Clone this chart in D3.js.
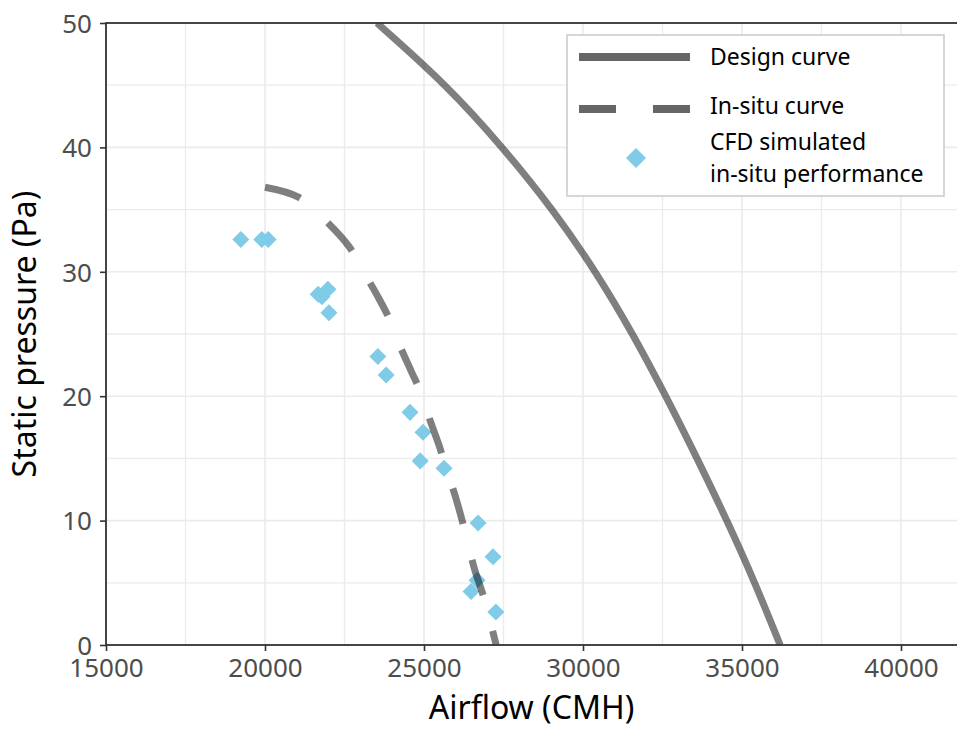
<!DOCTYPE html>
<html>
<head>
<meta charset="utf-8">
<script src="https://cdn.jsdelivr.net/npm/d3@7"></script>
<style>
  body { margin: 0; background: #fff; }
  svg { display: block; font-family: "Noto Sans", "DejaVu Sans", sans-serif; }
</style>
</head>
<body>
<svg id="chart" width="957" height="729"></svg>
<script>
// Design curve (Airflow CMH, static pressure Pa)
const designQ = [23520, 25720, 27480, 29060, 30410, 31570, 32610, 33590, 34530, 35410, 36200];
const designP = [50, 45, 40, 35, 30, 25, 20, 15, 10, 5, 0];

// In-situ curve
const insituQ = [20000, 21050, 21950, 22650, 23100, 23550, 23950, 24250, 24600, 24950, 25200, 25480, 25720, 25980, 26200, 26400, 26600, 26860, 27070, 27270];
const insituP = [36.8, 36.0, 34.0, 32.0, 30.0, 28.0, 26.0, 24.0, 22.0, 20.0, 18.0, 16.0, 14.0, 12.0, 10.0, 8.0, 6.0, 4.0, 2.0, 0.0];

// CFD simulated in-situ performance
const cfdQ = [19240, 19900, 20100, 21670, 21790, 21980, 22010, 23550, 23810, 24560, 24970, 24880, 25630, 26700, 27170, 26670, 26480, 27260];
const cfdP = [32.6, 32.6, 32.6, 28.2, 28.0, 28.6, 26.7, 23.2, 21.7, 18.7, 17.1, 14.8, 14.2, 9.8, 7.1, 5.2, 4.3, 2.65];

const xTicks = [15000, 20000, 25000, 30000, 35000, 40000];
const yTicks = [0, 10, 20, 30, 40, 50];
const xMinor = [17500, 22500, 27500, 32500, 37500, 42500];
const yMinor = [5, 15, 25, 35, 45];

const legendLabels = ["Design curve", "In-situ curve", ["CFD simulated", "in-situ performance"]];

const svg = d3.select("#chart");
const mLeft = 106, mTop = 23, mBottom = 645;
const x = d3.scaleLinear().domain([15000, 42000]).range([mLeft, mLeft + 27000 * 159 / 5000]);
const y = d3.scaleLinear().domain([0, 50]).range([mBottom, mTop]);
const mRight = x.range()[1];

svg.append("defs").append("clipPath").attr("id", "clip")
  .append("rect").attr("x", mLeft).attr("y", mTop).attr("width", mRight - mLeft).attr("height", mBottom - mTop);

// grid
const grid = svg.append("g");
grid.selectAll(".gxm").data(xMinor).join("line")
  .attr("x1", d => x(d)).attr("x2", d => x(d)).attr("y1", mTop).attr("y2", mBottom)
  .attr("stroke", "#ebebeb").attr("stroke-width", 1.3);
grid.selectAll(".gym").data(yMinor).join("line")
  .attr("y1", d => y(d)).attr("y2", d => y(d)).attr("x1", mLeft).attr("x2", mRight)
  .attr("stroke", "#ebebeb").attr("stroke-width", 1.3);
grid.selectAll(".gx").data(xTicks).join("line")
  .attr("x1", d => x(d)).attr("x2", d => x(d)).attr("y1", mTop).attr("y2", mBottom)
  .attr("stroke", "#ebebeb").attr("stroke-width", 1.6);
grid.selectAll(".gy").data(yTicks).join("line")
  .attr("y1", d => y(d)).attr("y2", d => y(d)).attr("x1", mLeft).attr("x2", mRight)
  .attr("stroke", "#ebebeb").attr("stroke-width", 1.6);

const plot = svg.append("g").attr("clip-path", "url(#clip)");

// diamonds
const cfd = cfdQ.map((q, i) => ({q, p: cfdP[i]}));
plot.selectAll(".pt").data(cfd).join("path")
  .attr("d", d3.symbol().type(d3.symbolSquare).size(145))
  .attr("transform", d => `translate(${x(d.q)},${y(d.p)}) rotate(45)`)
  .attr("fill", "#80cbe8");

const smooth = d3.line().x(d => x(d[0])).y(d => y(d[1])).curve(d3.curveBasis);
const line = d3.line().x(d => x(d[0])).y(d => y(d[1])).curve(d3.curveCatmullRom.alpha(0.5));

plot.append("path")
  .datum(designQ.map((q, i) => [q, designP[i]]))
  .attr("d", smooth).attr("fill", "none")
  .attr("stroke", "rgba(0,0,0,0.5)").attr("stroke-width", 7);

plot.append("path")
  .datum(insituQ.map((q, i) => [q, insituP[i]]))
  .attr("d", line).attr("fill", "none")
  .attr("stroke", "rgba(0,0,0,0.5)").attr("stroke-width", 7)
  .attr("stroke-dasharray", "37,37");

// axes
const xAxis = d3.axisBottom(x).tickValues(xTicks).tickSize(6).tickPadding(6).tickFormat(d3.format("d"));
const yAxis = d3.axisLeft(y).tickValues(yTicks).tickSize(6).tickPadding(8);

const gx = svg.append("g").attr("transform", `translate(0,${mBottom})`).call(xAxis);
const gy = svg.append("g").attr("transform", `translate(${mLeft},0)`).call(yAxis);
[gx, gy].forEach(g => {
  g.select(".domain").remove();
  g.selectAll(".tick line").attr("stroke", "#333").attr("stroke-width", 1.6);
  g.selectAll(".tick text").attr("fill", "#4d4d4d").attr("font-size", 26)
    .attr("font-family", "'Noto Sans', sans-serif");
});
gy.selectAll(".tick text").attr("dy", "0.36em");
gx.selectAll(".tick text").attr("dy", "0.78em");

// panel border
svg.append("rect").attr("x", mLeft).attr("y", mTop).attr("width", mRight - mLeft + 5).attr("height", mBottom - mTop)
  .attr("fill", "none").attr("stroke", "#333").attr("stroke-width", 1.8);

// axis titles
svg.append("text").attr("x", (mLeft + 957) / 2).attr("y", 719)
  .attr("text-anchor", "middle").attr("font-size", 32).attr("fill", "#000")
  .text("Airflow (CMH)");
svg.append("text").attr("transform", `translate(36,${(mTop + mBottom) / 2}) rotate(-90)`)
  .attr("text-anchor", "middle").attr("font-size", 32).attr("fill", "#000")
  .text("Static pressure (Pa)");

// legend
const lg = svg.append("g");
lg.append("rect").attr("x", 567).attr("y", 35).attr("width", 377).attr("height", 161)
  .attr("fill", "#fff").attr("stroke", "#cccccc").attr("stroke-width", 1.6);
lg.append("line").attr("x1", 579).attr("x2", 690).attr("y1", 57).attr("y2", 57)
  .attr("stroke", "rgba(0,0,0,0.6)").attr("stroke-width", 8);
lg.append("line").attr("x1", 579).attr("x2", 690).attr("y1", 109).attr("y2", 109)
  .attr("stroke", "rgba(0,0,0,0.6)").attr("stroke-width", 8).attr("stroke-dasharray", "37,37");
lg.append("path").attr("d", d3.symbol().type(d3.symbolSquare).size(200))
  .attr("transform", "translate(636,158) rotate(45)").attr("fill", "#80cbe8");
const lt = lg.append("g").attr("font-size", 23).attr("fill", "#000");
lt.append("text").attr("x", 710).attr("y", 57).attr("dy", "0.35em").text(legendLabels[0]);
lt.append("text").attr("x", 710).attr("y", 106).attr("dy", "0.35em").text(legendLabels[1]);
lt.append("text").attr("x", 710).attr("y", 142).attr("dy", "0.35em").text(legendLabels[2][0]);
lt.append("text").attr("x", 710).attr("y", 174).attr("dy", "0.35em").text(legendLabels[2][1]);
</script>
</body>
</html>
